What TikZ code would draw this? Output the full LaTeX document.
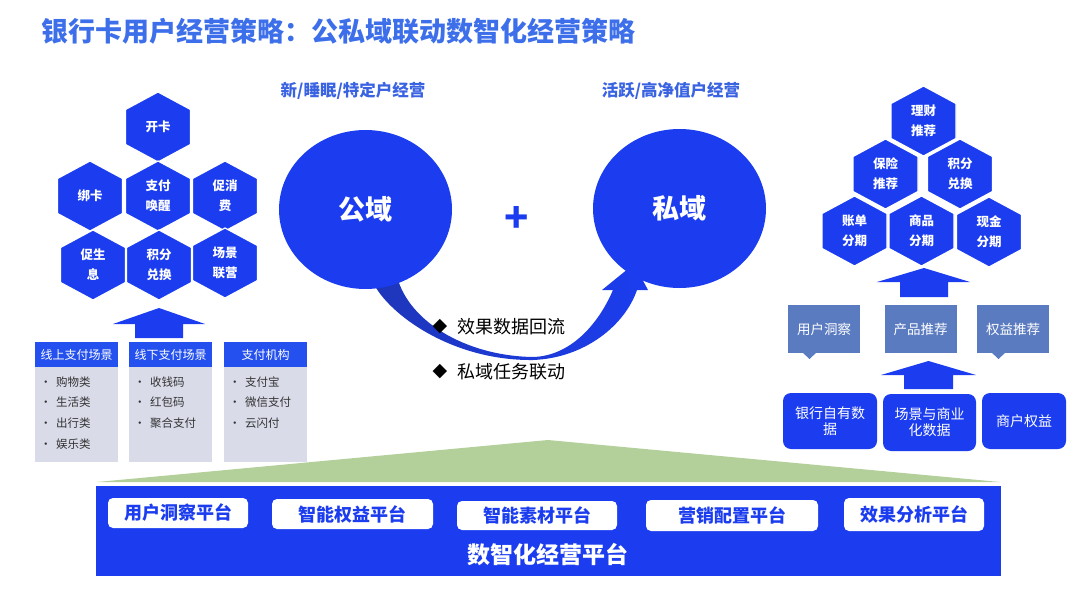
\documentclass[tikz,border=0pt]{standalone}
\usepackage{fontspec}
\setmainfont{Noto Sans CJK SC}
\newfontfamily\symfont{DejaVu Sans}
\usetikzlibrary{shapes.geometric}
\definecolor{mainblue}{HTML}{1B3DEF}
\definecolor{titleblue}{HTML}{3D6FEA}
\definecolor{subblue}{HTML}{3A63E2}
\definecolor{slate}{HTML}{5B7BC0}
\definecolor{lav}{HTML}{D9DBE9}
\definecolor{hdrblue}{HTML}{2350EE}
\definecolor{grn}{HTML}{B4D09A}
\definecolor{darkarrow}{HTML}{1E36B8}
\definecolor{itemgray}{HTML}{333333}
\newcommand\myfs[2]{\fontsize{#1}{#2}\selectfont}
\begin{document}
\begin{tikzpicture}[x=1pt,y=-1pt,
  hexfill/.style={fill=mainblue, draw=white, line width=1.2pt},
  hextext/.style={inner sep=0pt, text=white, font=\bfseries\myfs{12.5}{20}, align=center},
  hdr/.style={rectangle, fill=hdrblue, minimum width=83pt, minimum height=25pt,
    inner sep=0pt, text=white, font=\myfs{12}{14}},
  tbody/.style={rectangle, fill=lav, minimum width=83pt, minimum height=95pt, inner sep=0pt},
  item/.style={anchor=west, inner sep=0pt, text=itemgray, font=\myfs{11.5}{14}},
  callout/.style={rectangle, fill=slate, minimum width=72pt, minimum height=48pt,
    inner sep=0pt, text=white, font=\myfs{13.5}{16}},
  srcbox/.style={rectangle, rounded corners=8pt, fill=mainblue, inner sep=0pt,
    text=white, font=\myfs{14}{16}, align=center},
  platbox/.style={rectangle, rounded corners=5pt, fill=white, inner sep=0pt,
    text=mainblue, font=\bfseries\myfs{18}{20}},
  circ/.style={ellipse, fill=mainblue, minimum width=173pt, minimum height=159pt,
    inner sep=0pt, text=white, font=\bfseries\myfs{27}{27}},
  sub/.style={inner sep=0pt, text=subblue, font=\bfseries\myfs{16.5}{18}},
  lbl/.style={anchor=west, inner sep=0pt, text=black, font=\myfs{18}{20}},
  dia/.style={inner sep=0pt, text=black, font=\symfont\myfs{19}{19}}
]
\useasboundingbox (0,0) rectangle (1080,597);

% title
\node[anchor=west, inner sep=0pt, text=titleblue, font=\bfseries\myfs{27}{27}] (title) at (41,31) {银行卡用户经营策略：公私域联动数智化经营策略};

% ---------- hexagons (left and right) ----------
\foreach \x/\y/\n/\t in {
  158/127/h1/开卡, 90/196/h2/绑卡, 158/196/h3/支付\\唤醒, 225/196/h4/促消\\费,
  93/265/h5/促生\\息, 159/265/h6/积分\\兑换, 225/263/h7/场景\\联营,
  923.5/121/r1/理财\\推荐, 885.5/174/r2/保险\\推荐, 960/174/r3/积分\\兑换,
  854.5/231/r4/账单\\分期, 921.5/231/r5/商品\\分期, 989/232/r6/现金\\分期} {
  \filldraw[hexfill, shift={(\x,\y)}] (0,-35) -- (32.5,-17.5) -- (32.5,17.5) -- (0,35) -- (-32.5,17.5) -- (-32.5,-17.5) -- cycle;
  \node[hextext] (\n) at (\x,\y) {\t};
}

% left up arrow
\fill[mainblue] (159,308) -- (205,324) -- (183,324) -- (183,338) -- (135,338) -- (135,324) -- (113,324) -- cycle;

% ---------- tables ----------
\node[tbody] (t1b) at (76.5,414.5) {};
\node[tbody] (t2b) at (170.5,414.5) {};
\node[tbody] (t3b) at (265.5,414.5) {};
\node[hdr] (t1) at (76.5,354.5) {线上支付场景};
\node[hdr] (t2) at (170.5,354.5) {线下支付场景};
\node[hdr] (t3) at (265.5,354.5) {支付机构};

\foreach \t [count=\i] in {购物类,生活类,出行类,娱乐类} {
  \node[item] (a\i) at (40,{361+20.7*\i}) {•\hspace{4.5pt}\t};
}
\foreach \t [count=\i] in {收钱码,红包码,聚合支付} {
  \node[item] (b\i) at (134,{361+20.7*\i}) {•\hspace{4.5pt}\t};
}
\foreach \t [count=\i] in {支付宝,微信支付,云闪付} {
  \node[item] (c\i) at (229,{361+20.7*\i}) {•\hspace{4.5pt}\t};
}

% ---------- center ----------
\node[sub] (s1) at (353,91) {新/睡眠/特定户经营};
\node[sub] (s2) at (671,91) {活跃/高净值户经营};

% curved arrow
\shade[left color=darkarrow, right color=mainblue]
  (370,272) .. controls (372,300) and (440,361) .. (533,360)
  .. controls (585,358) and (625,325) .. (637,290)
  -- (648,290) -- (634,264) -- (602,290) -- (613,290)
  .. controls (598,325) and (570,356) .. (533,357)
  .. controls (465,356) and (405,320) .. (396,272) -- cycle;

\node[circ] (pub) at (365.5,209.5) {公域};
\node[circ] (pri) at (679.5,208.5) {私域};
\node[inner sep=0pt, text=mainblue, font=\bfseries\myfs{40}{40}] (plus) at (517,219) {+};

\node[dia] (d1) at (440,327) {◆};
\node[lbl] (l1) at (457,327) {效果数据回流};
\node[dia] (d2) at (440,372) {◆};
\node[lbl] (l2) at (457,372) {私域任务联动};

% right up arrow
\fill[mainblue] (924,268) -- (970,282) -- (948,282) -- (948,297) -- (900,297) -- (900,282) -- (877,282) -- cycle;

% callouts
\fill[slate] (802,352) -- (817,352) -- (809.5,359) -- cycle;
\fill[slate] (991,352) -- (1006,352) -- (998.5,359) -- cycle;
\node[callout] (k1) at (824,329) {用户洞察};
\node[callout] (k2) at (920.5,329) {产品推荐};
\node[callout] (k3) at (1013,329) {权益推荐};

\fill[mainblue] (928.5,361) -- (976,375) -- (953,375) -- (953,389) -- (904,389) -- (904,375) -- (881,375) -- cycle;

% source boxes
\node[srcbox, minimum width=94pt, minimum height=56pt] (e1) at (830,421) {银行自有数\\据};
\node[srcbox, minimum width=93pt, minimum height=57pt] (e2) at (929.5,422.5) {场景与商业\\化数据};
\node[srcbox, minimum width=84pt, minimum height=56pt] (e3) at (1024,421) {商户权益};

% ---------- bottom platform ----------
\fill[grn] (548,440) -- (1000,482) -- (97,482) -- cycle;
\node[rectangle, fill=mainblue, minimum width=905pt, minimum height=90pt, inner sep=0pt] (plat) at (548.5,531) {};
\node[platbox, minimum width=140pt, minimum height=30pt] (p1) at (178,513) {用户洞察平台};
\node[platbox, minimum width=161pt, minimum height=30pt] (p2) at (352.5,514) {智能权益平台};
\node[platbox, minimum width=160pt, minimum height=29pt] (p3) at (537,515.5) {智能素材平台};
\node[platbox, minimum width=172pt, minimum height=31pt] (p4) at (732,515.5) {营销配置平台};
\node[platbox, minimum width=140pt, minimum height=33pt] (p5) at (914,514.5) {效果分析平台};
\node[inner sep=0pt, text=white, font=\bfseries\myfs{23}{23}] (pt) at (548,555) {数智化经营平台};
\end{tikzpicture}
\end{document}
